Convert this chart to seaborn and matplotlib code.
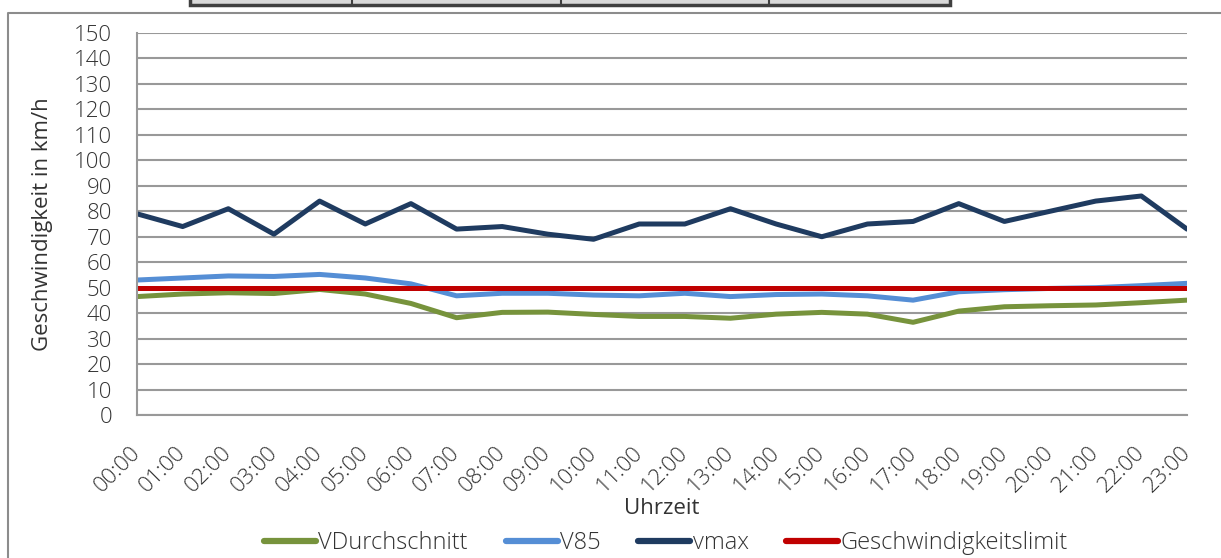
import pandas as pd
import matplotlib.pyplot as plt
import seaborn as sns
from matplotlib.patches import Rectangle
from matplotlib.lines import Line2D

# Values
hours = ['00:00', '01:00', '02:00', '03:00', '04:00', '05:00', '06:00', '07:00',
         '08:00', '09:00', '10:00', '11:00', '12:00', '13:00', '14:00', '15:00',
         '16:00', '17:00', '18:00', '19:00', '20:00', '21:00', '22:00', '23:00']
v_avg = [46.5, 47.5, 48.0, 47.7, 49.3, 47.5, 43.8, 38.2, 40.3, 40.4, 39.5, 38.7,
         38.7, 38.0, 39.6, 40.3, 39.6, 36.4, 40.8, 42.5, 42.9, 43.2, 44.1, 45.1]
v85 = [53.0, 53.8, 54.6, 54.4, 55.2, 53.8, 51.5, 46.8, 47.8, 47.8, 47.1, 46.8,
       47.8, 46.5, 47.3, 47.5, 46.8, 45.1, 48.4, 49.2, 49.7, 50.0, 50.8, 51.7]
vmax = [79, 74, 81, 71, 84, 75, 83, 73, 74, 71, 69, 75,
        75, 81, 75, 70, 75, 76, 83, 76, 80, 84, 86, 73]
limit = [50] * 24

series = ['VDurchschnitt', 'V85', 'vmax', 'Geschwindigkeitslimit']
colors = ['#77933C', '#558ED5', '#1F3B60', '#C00000']

data = pd.DataFrame({'Uhrzeit': list(range(24)) * 4,
                     'Wert': v_avg + v85 + vmax + limit,
                     'Serie': [s for s in series for _ in range(24)]})

sns.set_style('white')
plt.rcParams['font.family'] = ['Open Sans', 'DejaVu Sans']
plt.rcParams['font.weight'] = 'light'

fig = plt.figure(figsize=(12.21, 5.58), dpi=100)
ax = fig.add_axes([137 / 1221, 1 - 415 / 558, 1050 / 1221, 382 / 558])

sns.lineplot(data=data, x='Uhrzeit', y='Wert', hue='Serie', hue_order=series,
             palette=colors, linewidth=3.6, legend=False, ax=ax)

ax.set_xlim(0, 23)
ax.set_ylim(0, 150)
ax.set_yticks(range(0, 151, 10))
ax.set_xticks(range(24))
ax.set_xticklabels(hours, rotation=45, ha='right', va='center', rotation_mode='anchor')
ax.tick_params(axis='both', labelsize=16, length=6, width=1.5,
               direction='out', color='#999999', labelcolor='#333333')
ax.tick_params(axis='x', pad=19)
ax.tick_params(axis='y', pad=12)

ax.grid(axis='y', color='#999999', linewidth=1.5)
ax.set_axisbelow(True)
for side in ['top', 'right']:
    ax.spines[side].set_visible(False)
for side in ['left', 'bottom']:
    ax.spines[side].set_color('#999999')
    ax.spines[side].set_linewidth(1.5)

ax.set_xlabel('Uhrzeit', fontsize=16, color='#333333', va='center')
ax.xaxis.set_label_coords(0.5, (415 - 508) / 382)
ax.set_ylabel('Geschwindigkeit in km/h', fontsize=16, color='#333333', va='center')
ax.yaxis.set_label_coords((43 - 137) / 1050, 0.5)

# Legend below the plot
handles = [Line2D([0], [0], color=c, linewidth=4.5, solid_capstyle='round') for c in colors]
fig.legend(handles, series, loc='center', bbox_to_anchor=(666 / 1221, 1 - 543 / 558),
           ncol=4, frameon=False, fontsize=17, handlelength=2.2, handletextpad=0.1,
           columnspacing=1.6, labelcolor='#333333')

# Chart frame and the edge of the table above it
fig.add_artist(Line2D([8 / 1221, 8 / 1221, 1], [0, 1 - 13 / 558, 1 - 13 / 558],
                      transform=fig.transFigure, color='#8C8C8C', linewidth=1.5))
fig.add_artist(Rectangle((190 / 1221, 1 - 5 / 558), 760 / 1221, 10 / 558,
                         transform=fig.transFigure, facecolor='#D9D9D9',
                         edgecolor='#404040', linewidth=2.5))
for xd in [352, 561, 769]:
    fig.add_artist(Line2D([xd / 1221, xd / 1221], [1 - 5 / 558, 1],
                          transform=fig.transFigure, color='#404040', linewidth=1.5))

plt.savefig('out.png', dpi=100)
